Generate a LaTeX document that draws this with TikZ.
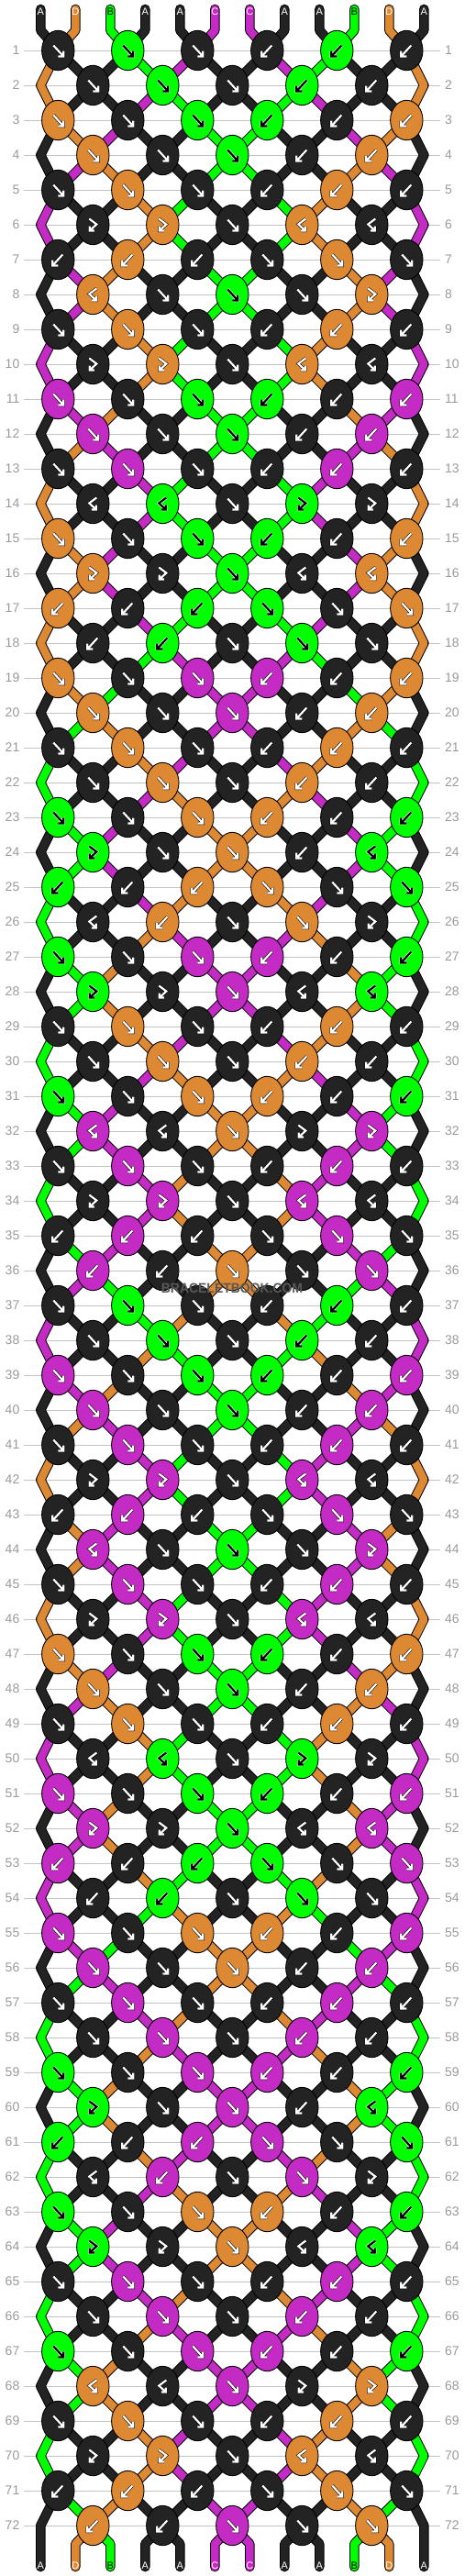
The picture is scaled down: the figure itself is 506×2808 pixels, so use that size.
\documentclass[tikz,border=0pt]{standalone}
\usepackage{fontspec}
\setmainfont{Liberation Sans}
\usetikzlibrary{shapes.geometric}

\definecolor{strA}{HTML}{232323}
\definecolor{strB}{HTML}{00FF00}
\definecolor{strC}{HTML}{C42AC4}
\definecolor{strD}{HTML}{DD8833}
\colorlet{txtA}{white}
\colorlet{txtB}{black}
\colorlet{txtC}{white}
\colorlet{txtD}{white}
\colorlet{outA}{black}
\colorlet{outB}{white}
\colorlet{outC}{black}
\colorlet{outD}{black}
\definecolor{rowgray}{HTML}{9A9A9A}
\definecolor{gridgray}{HTML}{C4C4C4}

\tikzset{
  knot/.style={ellipse, draw=black, line width=0.9pt, minimum width=35.4pt, minimum height=43.4pt, inner sep=0pt},
  glyph/.style={line width=0.55pt, draw=out#1, double=txt#1, double distance=2.2pt, line join=miter},
  strand out/.style={draw=black, line width=10.6pt, line cap=round, line join=round},
  strand in/.style={line width=8.6pt, line cap=round, line join=round},
  rownum/.style={text=rowgray, font=\fontsize{14}{14}\selectfont, inner sep=0pt},
  rowline/.style={draw=gridgray, line width=1pt, shorten <=4.5pt, shorten >=5pt},
  strlabel/.style={font=\fontsize{11}{11}\selectfont, inner sep=0pt},
  watermark/.style={font=\bfseries\fontsize{15}{15}\selectfont, text=black!65, xscale=0.93}
}

% one strand piece: black rim in pass 0, colour in pass 1
\newcommand\strand[2]{%
  \ifnum\pass=0 \draw[strand out] #2;\else\draw[strand in, draw=str#1] #2;\fi}

% where slot #1 sits in row #2 -> \pn
\newcommand\slotname[2]{%
  \ifodd#2\relax
    \pgfmathtruncatemacro\pk{2*floor(#1/2)}\edef\pn{pt#2-\pk}%
  \else
    \ifnum#1=0 \edef\pn{edgeL#2}\else
    \ifnum#1=11 \edef\pn{edgeR#2}\else
      \pgfmathtruncatemacro\pk{2*floor((#1-1)/2)+1}\edef\pn{pt#2-\pk}%
    \fi\fi
  \fi}

% arrow inside a knot: f, b, F (fb), B (bf)
\newcommand\knotglyph[3]{%
  \begin{scope}[shift={(#2)}]
    \if#1f\draw[glyph=#3] (-5,-5.5) -- (6,6.5) (6,0.5) -- (6,6.5) -- (0,6.5);\fi
    \if#1b\draw[glyph=#3] (5,-5.5) -- (-6,6.5) (-6,0.5) -- (-6,6.5) -- (0,6.5);\fi
    \if#1F\draw[glyph=#3] (-4,-6.5) -- (4,-0.5) -- (-3.5,6.5) (-3.5,1.5) -- (-3.5,6.5) -- (1.5,6.5);\fi
    \if#1B\draw[glyph=#3] (4,-6.5) -- (-4,-0.5) -- (3.5,6.5) (3.5,1.5) -- (3.5,6.5) -- (-1.5,6.5);\fi
  \end{scope}}

\begin{document}
\begin{tikzpicture}[x=1pt, y=-1pt]
\useasboundingbox (0,0) rectangle (506,2808);

\foreach \col [count=\sid from 0] in {A,D,B,A,A,C,C,A,A,B,D,A}{
  \expandafter\xdef\csname st\sid\endcsname{\col}
  \pgfmathsetmacro\sx{44.3+38*\sid}
  \coordinate (topS\sid) at (\sx,10);
  \coordinate (topB\sid) at (\sx,33);
  \coordinate (botB\sid) at (\sx,2773);
  \coordinate (botS\sid) at (\sx,2798);
}

% rows: guide lines, numbers, and the colour of every knot
\foreach \row [count=\rw] in {
  {f,f,f,b,b,b},{f,f,f,b,b},{f,f,f,b,b,b},{f,f,f,b,b},{f,f,f,b,b,b},{F,F,f,B,B},
  {b,b,b,f,f,f},{B,f,f,f,F},{f,f,f,b,b,b},{F,F,f,B,B},{f,f,f,b,b,b},{f,f,f,b,b},
  {f,f,f,b,b,b},{B,B,f,F,F},{f,f,f,b,b,b},{F,F,f,B,B},{b,b,b,f,f,f},{b,b,f,f,f},
  {f,f,f,b,b,b},{f,f,f,b,b},{f,f,f,b,b,b},{f,f,f,b,b},{f,f,f,b,b,b},{F,f,f,b,B},
  {b,b,b,f,f,f},{B,b,f,f,F},{f,f,f,b,b,b},{F,F,f,B,B},{f,f,f,b,b,b},{f,f,f,b,b},
  {f,f,f,b,b,b},{B,B,f,F,F},{f,f,f,b,b,b},{F,F,f,B,B},{b,b,b,f,f,f},{b,b,f,f,f},
  {f,f,f,b,b,b},{f,f,f,b,b},{f,f,f,b,b,b},{f,f,f,b,b},{f,f,f,b,b,b},{F,F,f,B,B},
  {b,b,b,f,f,f},{B,f,f,f,F},{f,f,f,b,b,b},{F,F,f,B,B},{f,f,f,b,b,b},{f,f,f,b,b},
  {f,f,f,b,b,b},{B,B,f,F,F},{f,f,f,b,b,b},{F,F,f,B,B},{b,b,b,f,f,f},{b,b,f,f,f},
  {f,f,f,b,b,b},{f,f,f,b,b},{f,f,f,b,b,b},{f,f,f,b,b},{f,f,f,b,b,b},{F,f,f,b,B},
  {b,b,b,f,f,f},{B,b,f,f,F},{f,f,f,b,b,b},{F,F,f,B,B},{f,f,f,b,b,b},{f,f,f,b,b},
  {f,f,f,b,b,b},{B,B,f,F,F},{f,f,f,b,b,b},{F,F,f,B,B},{b,b,b,f,f,f},{b,b,f,f,f}}{
  \pgfmathsetmacro\y{17+38*\rw}
  \node[rownum, anchor=east] (numL\rw) at (21.5,\y) {\rw};
  \node[rownum, anchor=west] (numR\rw) at (485,\y) {\rw};
  \draw[rowline] (numL\rw.east) -- (numR\rw.west);
  \coordinate (edgeL\rw) at (44.3,\y);
  \coordinate (edgeR\rw) at (462.3,\y);
  \foreach \sid in {0,...,11}{\expandafter\xdef\csname pre\rw-\sid\endcsname{\csname st\sid\endcsname}}
  \foreach \ty [count=\jj] in \row {
    \ifodd\rw\relax\pgfmathtruncatemacro\nk{2*\jj-2}\else\pgfmathtruncatemacro\nk{2*\jj-1}\fi
    \pgfmathtruncatemacro\nkk{\nk+1}
    \edef\lc{\csname st\nk\endcsname}\edef\rc{\csname st\nkk\endcsname}
    \if\ty f\let\kc\lc\def\sw{1}\fi
    \if\ty b\let\kc\rc\def\sw{1}\fi
    \if\ty F\let\kc\lc\def\sw{0}\fi
    \if\ty B\let\kc\rc\def\sw{0}\fi
    \ifnum\sw=1
      \expandafter\xdef\csname st\nk\endcsname{\rc}
      \expandafter\xdef\csname st\nkk\endcsname{\lc}
    \fi
    \expandafter\xdef\csname kc\rw-\nk\endcsname{\kc}
    \expandafter\xdef\csname ty\rw-\nk\endcsname{\ty}
    \pgfmathsetmacro\x{63.3+38*\nk}
    \coordinate (pt\rw-\nk) at (\x,\y);
  }
}

% strands: rims first, then colours
\foreach \pass in {0,1}{
  \foreach \rw in {1,...,72}{
    \foreach \sid in {0,...,11}{
      \edef\strc{\csname pre\rw-\sid\endcsname}
      \slotname{\sid}{\rw}\let\cur\pn
      \ifnum\sid=0 \def\edge{1}\else\ifnum\sid=11 \def\edge{1}\else\def\edge{0}\fi\fi
      \ifnum\rw=1
        \strand{\strc}{(topS\sid) -- (topB\sid) -- (\cur)}
      \else
        \pgfmathtruncatemacro\pr{\rw-1}
        \ifnum\edge=0
          \slotname{\sid}{\pr}
          \strand{\strc}{(\pn) -- (\cur)}
        \else
          \ifodd\rw\relax
            \pgfmathtruncatemacro\prr{\rw-2}
            \slotname{\sid}{\prr}
            \edef\ep{edge\ifnum\sid=0 L\else R\fi\pr}
            \strand{\strc}{(\pn) -- (\ep) -- (\cur)}
          \else
            \ifnum\rw=72
              \slotname{\sid}{\pr}
              \strand{\strc}{(\pn) -- (\cur) -- (botS\sid)}
            \fi
          \fi
        \fi
      \fi
    }
  }
  \foreach \sid in {1,...,10}{
    \edef\strc{\csname st\sid\endcsname}
    \slotname{\sid}{72}
    \strand{\strc}{(\pn) -- (botB\sid) -- (botS\sid)}
  }
}

% knots
\foreach \rw in {1,...,72}{
  \ifodd\rw\relax\def\klist{0,2,4,6,8,10}\else\def\klist{1,3,5,7,9}\fi
  \foreach \nk in \klist {
    \edef\kc{\csname kc\rw-\nk\endcsname}
    \edef\ty{\csname ty\rw-\nk\endcsname}
    \node[knot, fill=str\kc] (kn\rw-\nk) at (pt\rw-\nk) {};
    \knotglyph{\ty}{kn\rw-\nk}{\kc}
  }
}

% string letters
\foreach \col [count=\sid from 0] in {A,D,B,A,A,C,C,A,A,B,D,A}{
  \node[strlabel, text=txt\col] (topL\sid) at ([yshift=-2.5pt]topS\sid) {\col};
}
\foreach \sid in {0,...,11}{
  \edef\strc{\csname st\sid\endcsname}
  \node[strlabel, text=txt\strc] (botL\sid) at ([yshift=1pt]botS\sid) {\strc};
}

\node[watermark] (wm) at (253,1404) {BRACELETBOOK.COM};
\end{tikzpicture}
\end{document}
